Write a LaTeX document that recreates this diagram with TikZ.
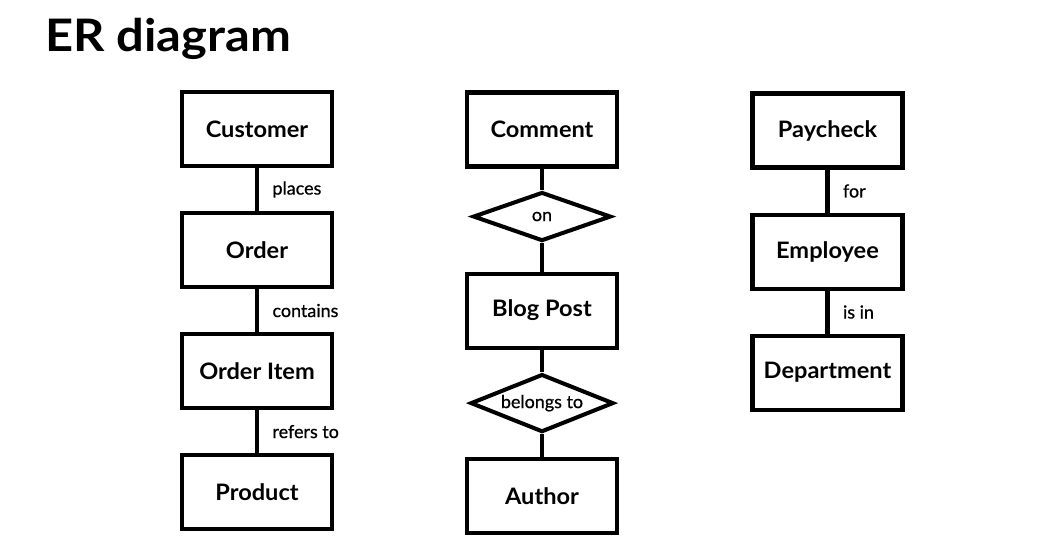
\documentclass[tikz,border=0pt]{standalone}
\usepackage{fontspec}
\setmainfont{Lato}
\newfontfamily\ttlfont{Lato}[FakeStretch=1.09]
\newfontfamily\entfont{Lato}[FakeStretch=1.04]
\newfontfamily\lblfont{Lato}[FakeBold=0.7]
\usepackage{tikz}
\usetikzlibrary{positioning,shapes.geometric}

\begin{document}
\begin{tikzpicture}[
    node distance=0.86cm,
    ent/.style={draw, line width=2.3pt, minimum width=3cm, minimum height=1.48cm, align=center, font=\entfont\fontsize{12.9}{15}\selectfont\bfseries},
    rel/.style={draw, diamond, line width=2.3pt, inner sep=0pt, aspect=2.8, align=center, font=\lblfont\fontsize{10.2}{12}\selectfont},
    lnk/.style={line width=2.3pt},
    lbl/.style={inner sep=0pt, font=\lblfont\fontsize{10.2}{12}\selectfont}
]
\useasboundingbox (0,0) rectangle (21.26,-11.2);
% title
\node[anchor=base west, inner sep=0pt, font=\ttlfont\fontsize{25.5}{30}\selectfont\bfseries] (title) at (0.9,-1.04) {ER diagram};

% column 1
\node[ent] (cust) at (5.14,-2.58) {Customer};
\node[ent, below=of cust] (ord) {Order};
\node[ent, below=of ord] (item) {Order Item};
\node[ent, below=of item] (prod) {Product};
\draw[lnk] (cust) -- node[lbl, right=0.27cm] {places} (ord);
\draw[lnk] (ord) -- node[lbl, right=0.27cm] {contains} (item);
\draw[lnk] (item) -- node[lbl, right=0.27cm] {refers to} (prod);

% column 2
\node[ent] (comm) at (10.84,-2.59) {Comment};
\node[rel, minimum width=2.76cm, minimum height=0.98cm, below=0.43cm of comm] (on) {on};
\node[ent, below=0.57cm of on] (post) {Blog Post};
\node[rel, minimum width=2.86cm, minimum height=1.16cm, below=0.45cm of post] (belongs) {belongs to};
\node[ent, below=0.46cm of belongs] (auth) {Author};
\draw[lnk] (comm) -- (on);
\draw[lnk] (on) -- (post);
\draw[lnk] (post) -- (belongs);
\draw[lnk] (belongs) -- (auth);

% column 3
\node[ent] (pay) at (16.55,-2.61) {Paycheck};
\node[ent, below=of pay] (emp) {Employee};
\node[ent, below=of emp] (dept) {Department};
\draw[lnk] (pay) -- node[lbl, right=0.27cm] {for} (emp);
\draw[lnk] (emp) -- node[lbl, right=0.27cm] {is in} (dept);
\end{tikzpicture}
\end{document}
